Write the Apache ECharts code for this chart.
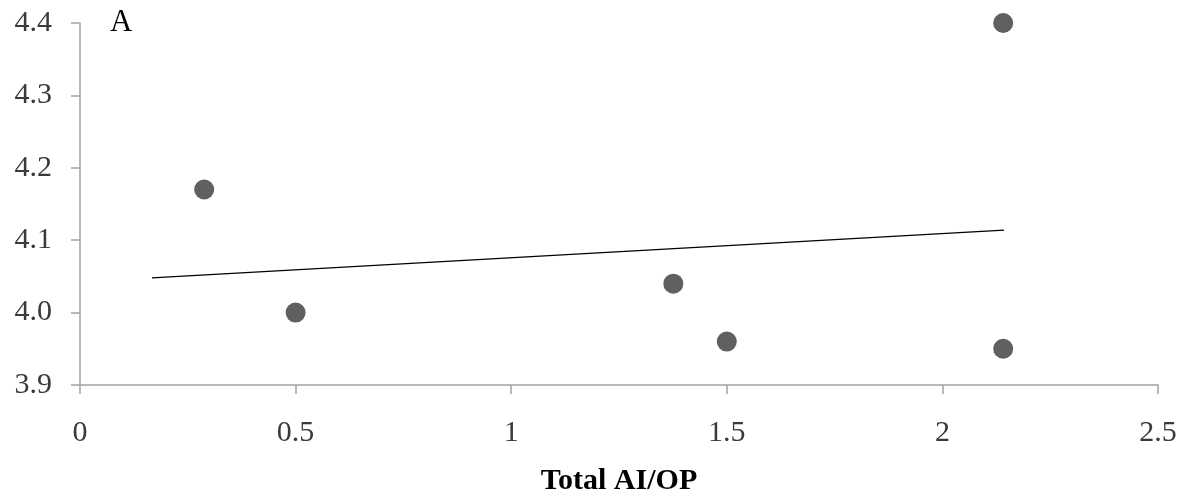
<!DOCTYPE html>
<html>
<head>
<meta charset="utf-8">
<script src="https://cdn.jsdelivr.net/npm/echarts@6/dist/echarts.min.js"></script>
<style>
html, body { margin: 0; padding: 0; background: #fff; }
#scatter-chart { width: 1198px; height: 497px; }
</style>
</head>
<body>
<div id="scatter-chart"></div>
<script>
// x = Total AI/OP, y = score
let aiopValues = [0.288, 0.5, 1.376, 1.5, 2.141, 2.141]
let scoreValues = [4.17, 4.0, 4.04, 3.96, 4.4, 3.95]
// trend line ends
let trendX = [0.167, 2.143]
let trendY = [4.048, 4.114]

let xTicks = { min: 0, max: 2.5, interval: 0.5 }
let yTicks = { min: 3.9, max: 4.4, interval: 0.1 }

function initChart(){
    let dom = document.getElementById('scatter-chart')
    let chart = echarts.init(dom)
    let points = aiopValues.map((x, i) => [x, scoreValues[i]])
    let trend = trendX.map((x, i) => [x, trendY[i]])
    let font = '"Liberation Serif", "DejaVu Serif", serif'
    let axisGray = '#a3a3a3'
    let option = {
        animation: false,
        backgroundColor: '#ffffff',
        title: {
            text: 'A',
            left: 105,
            top: 2,
            textStyle: { fontFamily: font, fontSize: 31, fontWeight: 'normal', color: '#000' }
        },
        grid: { left: 80, right: 40, top: 23, bottom: 112, outerBoundsMode: 'none', containLabel: false },
        xAxis: {
            type: 'value',
            min: xTicks.min,
            max: xTicks.max,
            interval: xTicks.interval,
            name: 'Total AI/OP',
            nameLocation: 'middle',
            nameGap: 81,
            nameTextStyle: { fontFamily: font, fontSize: 30, fontWeight: 'bold', color: '#000' },
            axisLine: { lineStyle: { color: axisGray, width: 1.5 } },
            axisTick: { show: true, inside: false, length: 9, lineStyle: { color: axisGray, width: 1.5 } },
            axisLabel: { fontFamily: font, fontSize: 30, color: '#3a3a3a', margin: 33 },
            splitLine: { show: false }
        },
        yAxis: {
            type: 'value',
            min: yTicks.min,
            max: yTicks.max,
            interval: yTicks.interval,
            axisLine: { show: true, lineStyle: { color: axisGray, width: 1.5 } },
            axisTick: { show: true, inside: false, length: 9, lineStyle: { color: axisGray, width: 1.5 } },
            axisLabel: {
                fontFamily: font, fontSize: 30, color: '#3a3a3a', margin: 28,
                formatter: v => v.toFixed(1)
            },
            splitLine: { show: false }
        },
        series: [
            {
                name: 'data',
                type: 'scatter',
                symbol: 'circle',
                symbolSize: 20,
                itemStyle: { color: '#606060', opacity: 1 },
                data: points
            },
            {
                name: 'trend',
                type: 'line',
                symbol: 'none',
                lineStyle: { color: '#000', width: 1.3 },
                data: trend
            }
        ]
    }
    chart.setOption(option)
    window.addEventListener('resize', () => chart.resize())
}

initChart()
</script>
</body>
</html>
